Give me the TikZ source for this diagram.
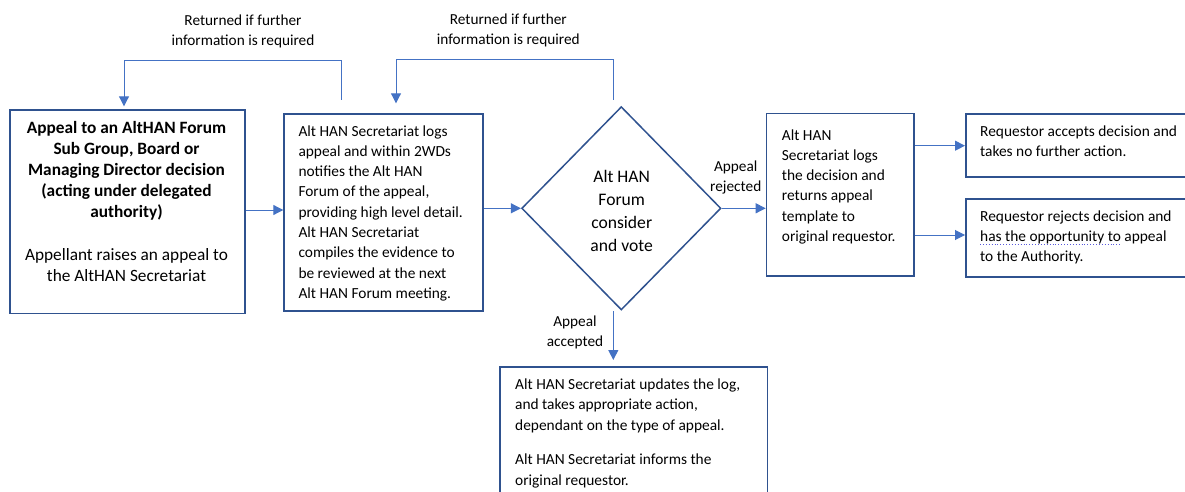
\documentclass[tikz,border=0pt]{standalone}
\usepackage{fontspec}
\setmainfont{Carlito}
\usetikzlibrary{arrows.meta,shapes.geometric,calc}
\definecolor{boxblue}{HTML}{2F528F}
\definecolor{arrblue}{HTML}{4472C4}
\definecolor{squig}{HTML}{5A5ADC}
\begin{document}
\begin{tikzpicture}[x=1pt,y=-1pt,
  box/.style={draw=boxblue, line width=1.5pt, inner sep=0pt, anchor=north west},
  conn/.style={draw=arrblue, line width=1pt, -{Triangle[length=10pt,width=10pt]}},
  txt/.style={inner sep=0pt, align=left, anchor=north west, font=\fontsize{15.4}{20.3}\selectfont},
  lbl/.style={inner sep=0pt, align=center, anchor=north, font=\fontsize{15.3}{20.3}\selectfont}]
\useasboundingbox (0,0) rectangle (1185,492);
\clip (0,0) rectangle (1185,492);
% boxes
\node[box, minimum width=235pt, minimum height=203.4pt] (b1) at (9,109.3) {};
\node[box, minimum width=199pt, minimum height=196.7pt] (b2) at (283.3,113.3) {};
\node[draw=boxblue, line width=1.5pt, shape=diamond, inner sep=0pt, minimum width=199.3pt, minimum height=203.3pt] (d) at (621.3,208.3) {};
\node[box, minimum width=147.6pt, minimum height=162.3pt] (b3) at (765.7,112.7) {};
\node[box, minimum width=240pt, minimum height=62.7pt] (b4) at (965,113.3) {};
\node[box, minimum width=240pt, minimum height=77.7pt] (b5) at (965,198.3) {};
\node[box, minimum width=267.4pt, minimum height=140pt] (b6) at (499.3,366) {};
% texts
\node[inner sep=0pt, align=center, anchor=north, font=\fontsize{17.3}{21}\selectfont] (t1) at (126.5,120.8)
  {\textbf{Appeal to an AltHAN Forum}\\\textbf{Sub Group, Board or}\\\textbf{Managing Director decision}\\\textbf{(acting under delegated}\\\textbf{authority)}\\[22pt]Appellant raises an appeal to\\the AltHAN Secretariat};
\node[txt] (t2) at (298.3,125.2) {Alt HAN Secretariat logs\\appeal and within 2WDs\\notifies the Alt HAN\\Forum of the appeal,\\providing high level detail.\\Alt HAN Secretariat\\compiles the evidence to\\be reviewed at the next\\Alt HAN Forum meeting.};
\node[inner sep=0pt, align=center, anchor=north, font=\fontsize{17.6}{22.9}\selectfont] (td) at (621.7,169.9) {Alt HAN\\Forum\\consider\\and vote};
\node[txt] (t3) at (781.7,129.2) {Alt HAN\\Secretariat logs\\the decision and\\returns appeal\\template to\\original requestor.};
\node[txt] (t4) at (980,125.2) {Requestor accepts decision and\\takes no further action.};
\node[txt] (t5) at (980,210.2) {Requestor rejects decision and\\has the opportunity to appeal\\to the Authority.};
\node[txt] (t6) at (515,378.6) {Alt HAN Secretariat updates the log,\\and takes appropriate action,\\dependant on the type of appeal.\\[14.4pt]Alt HAN Secretariat informs the\\original requestor.};
% labels
\node[lbl] (l1) at (243,14.6) {Returned if further\\information is required};
\node[lbl] (l2) at (508.3,13.6) {Returned if further\\information is required};
\node[lbl] (l3) at (735.7,160.8) {Appeal\\rejected};
\node[lbl] (l4) at (575,315.2) {Appeal\\accepted};
% grammar squiggle
\coordinate (sq1) at (980,244.5);
\coordinate (sq2) at (1121.7,244.5);
\draw[squig, dotted, line width=0.9pt] (sq1) -- (sq2);
% connectors
\draw[conn] (b1.east |- 0,210) -- (b2.west |- 0,210);
\draw[conn] (b2.east |- d.west) -- (d.west);
\draw[conn] (d.east) -- (d.east -| b3.west);
\draw[conn] (b3.east |- 0,145.7) -- (b4.west |- 0,145.7);
\draw[conn] (b3.east |- 0,235) -- (b5.west |- 0,235);
\coordinate (f1s) at (341.7,100);
\coordinate (f1t) at (124,60.7);
\draw[conn, shorten >=3pt] (f1s) |- (f1t) -- (f1t |- b1.north);
\coordinate (f2s) at (613.3,100);
\coordinate (f2t) at (396,59.3);
\draw[conn, shorten >=10pt] (f2s) |- (f2t) -- (f2t |- b2.north);
\coordinate (acs) at (613.3,311);
\draw[conn, shorten >=6pt] (acs) -- (acs |- b6.north);
\end{tikzpicture}
\end{document}
